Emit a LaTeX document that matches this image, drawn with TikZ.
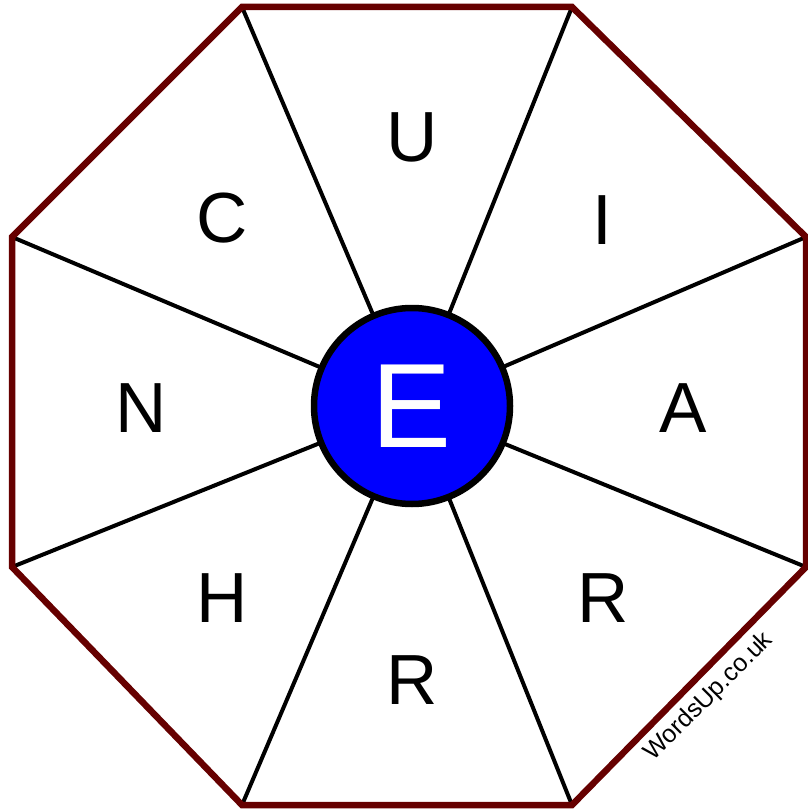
\documentclass[tikz,border=0pt]{standalone}
\usepackage{fontspec}
\setmainfont{Liberation Sans}
\definecolor{bordo}{HTML}{660000}
\begin{document}
\begin{tikzpicture}[x=1pt, y=-1pt, every node/.style={font=\fontsize{71}{71}\selectfont}]
\useasboundingbox (0,0) rectangle (807,810);
% --- ottagono ---
\coordinate (c) at (412,406);
\coordinate (v1) at (242,7);
\coordinate (v2) at (572,7);
\coordinate (v3) at (806,237);
\coordinate (v4) at (806,567);
\coordinate (v5) at (572,805);
\coordinate (v6) at (242,805);
\coordinate (v7) at (12,567);
\coordinate (v8) at (12,237);
\foreach \k in {1,...,8} {
    \draw[line width=4pt] (c) -- (v\k);
}
\draw[bordo, line width=6.5pt, line join=miter] (v1) -- (v2) -- (v3) -- (v4) -- (v5) -- (v6) -- (v7) -- (v8) -- cycle;
% --- centro ---
\node[circle, draw, line width=6.5pt, fill=blue, text=white, minimum size=196pt, inner sep=0pt,
      font=\fontsize{120}{120}\selectfont] (hub) at (c) {E};
% --- lettere ---
\node (lU) at (412,137) {U};
\node (lI) at (602,220) {I};
\node (lA) at (683,408) {A};
\node (lR1) at (603,598) {R};
\node (lR2) at (412,680) {R};
\node (lH) at (222,598) {H};
\node (lN) at (141,408) {N};
\node (lC) at (222,218) {C};
\node[rotate=45, font=\fontsize{25}{25}\selectfont] (wm) at (709,697) {WordsUp.co.uk};
\end{tikzpicture}
\end{document}
